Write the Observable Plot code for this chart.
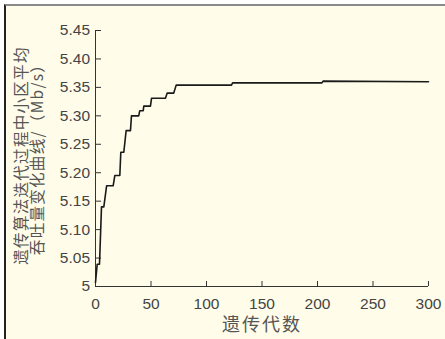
<!DOCTYPE html>
<html><head><meta charset="utf-8">
<script src="https://cdn.jsdelivr.net/npm/d3@7"></script>
<script src="https://cdn.jsdelivr.net/npm/@observablehq/plot@0.6"></script>
<style>
html,body{margin:0;padding:0;background:#fff;overflow:hidden;}
#wrap{position:relative;width:445px;height:339px;overflow:hidden;}
#bg{position:absolute;left:4px;top:4px;width:441px;height:335px;background:#fffce9;border-top:2px solid #8a8a8a;border-left:2px solid #222;box-sizing:border-box;}
#chart{position:absolute;left:0;top:0;}
.ylab text{letter-spacing:1.3px;}
.xlab text{letter-spacing:2px;}
</style>
</head><body>
<div id="wrap"><div id="bg"></div><div id="chart"></div></div>
<script>
// generation breakpoints of the convergence curve
const generations = [0, 1.5, 3.6, 5.4, 7.5, 10, 15.9, 17.4, 21.9, 22.8, 25.5, 27.6, 31.5, 32.4, 38.9, 39.9, 43, 43.5, 49.5, 50.5, 63, 64.6, 70.5, 72.7, 122.5, 123.5, 204, 205, 300];
const throughput  = [5.007, 5.039, 5.039, 5.140, 5.140, 5.177, 5.177, 5.195, 5.195, 5.236, 5.236, 5.274, 5.274, 5.300, 5.300, 5.309, 5.309, 5.317, 5.317, 5.331, 5.331, 5.340, 5.340, 5.354, 5.354, 5.358, 5.358, 5.361, 5.360];
const xTicks = [0, 50, 100, 150, 200, 250, 300];
const yTicks = [5, 5.05, 5.10, 5.15, 5.20, 5.25, 5.30, 5.35, 5.40, 5.45];
const yTickLabels = ["5", "5.05", "5.10", "5.15", "5.20", "5.25", "5.30", "5.35", "5.40", "5.45"];
const xLabel = "遗传代数";
const yLabel = "遗传算法迭代过程中小区平均\n吞吐量变化曲线/（Mb/s）";

const data = generations.map((g, i) => ({g, v: throughput[i]}));
const cjk = "'Noto Sans CJK SC', sans-serif";

const chart = Plot.plot({
  width: 445,
  height: 339,
  marginLeft: 95,
  marginRight: 17,
  marginTop: 30,
  marginBottom: 53,
  style: {background: "transparent", fontFamily: "'Liberation Sans', Arial, sans-serif", fontSize: "15.5px", color: "#444"},
  x: {domain: [0, 300]},
  y: {domain: [5, 5.45]},
  marks: [
    Plot.axisX({ticks: xTicks, tickSize: -5, tickPadding: 16, label: null, stroke: "#333", fill: "#444", fontSize: 15.5}),
    Plot.axisY({ticks: yTicks, tickFormat: d => yTickLabels[yTicks.indexOf(d)], tickSize: -6, tickPadding: 11.5, label: null, stroke: "#333", fill: "#444", fontSize: 15.5}),
    Plot.ruleX([0], {stroke: "#333", strokeWidth: 1}),
    Plot.ruleY([5], {stroke: "#333", strokeWidth: 1}),
    Plot.line(data, {x: "g", y: "v", stroke: "#1a1a1a", strokeWidth: 1.6}),
    Plot.text([yLabel], {frameAnchor: "left", textAnchor: "middle", lineAnchor: "middle", rotate: -90, dx: -66, dy: -3, fontSize: 15.5, fontFamily: cjk, fill: "#555", lineHeight: 1.05, className: "ylab"}),
    Plot.text([xLabel], {frameAnchor: "bottom", lineAnchor: "middle", dy: 39, fontSize: 18, fontFamily: cjk, fill: "#555", className: "xlab"})
  ]
});
document.getElementById("chart").appendChild(chart);
</script>
</body></html>
